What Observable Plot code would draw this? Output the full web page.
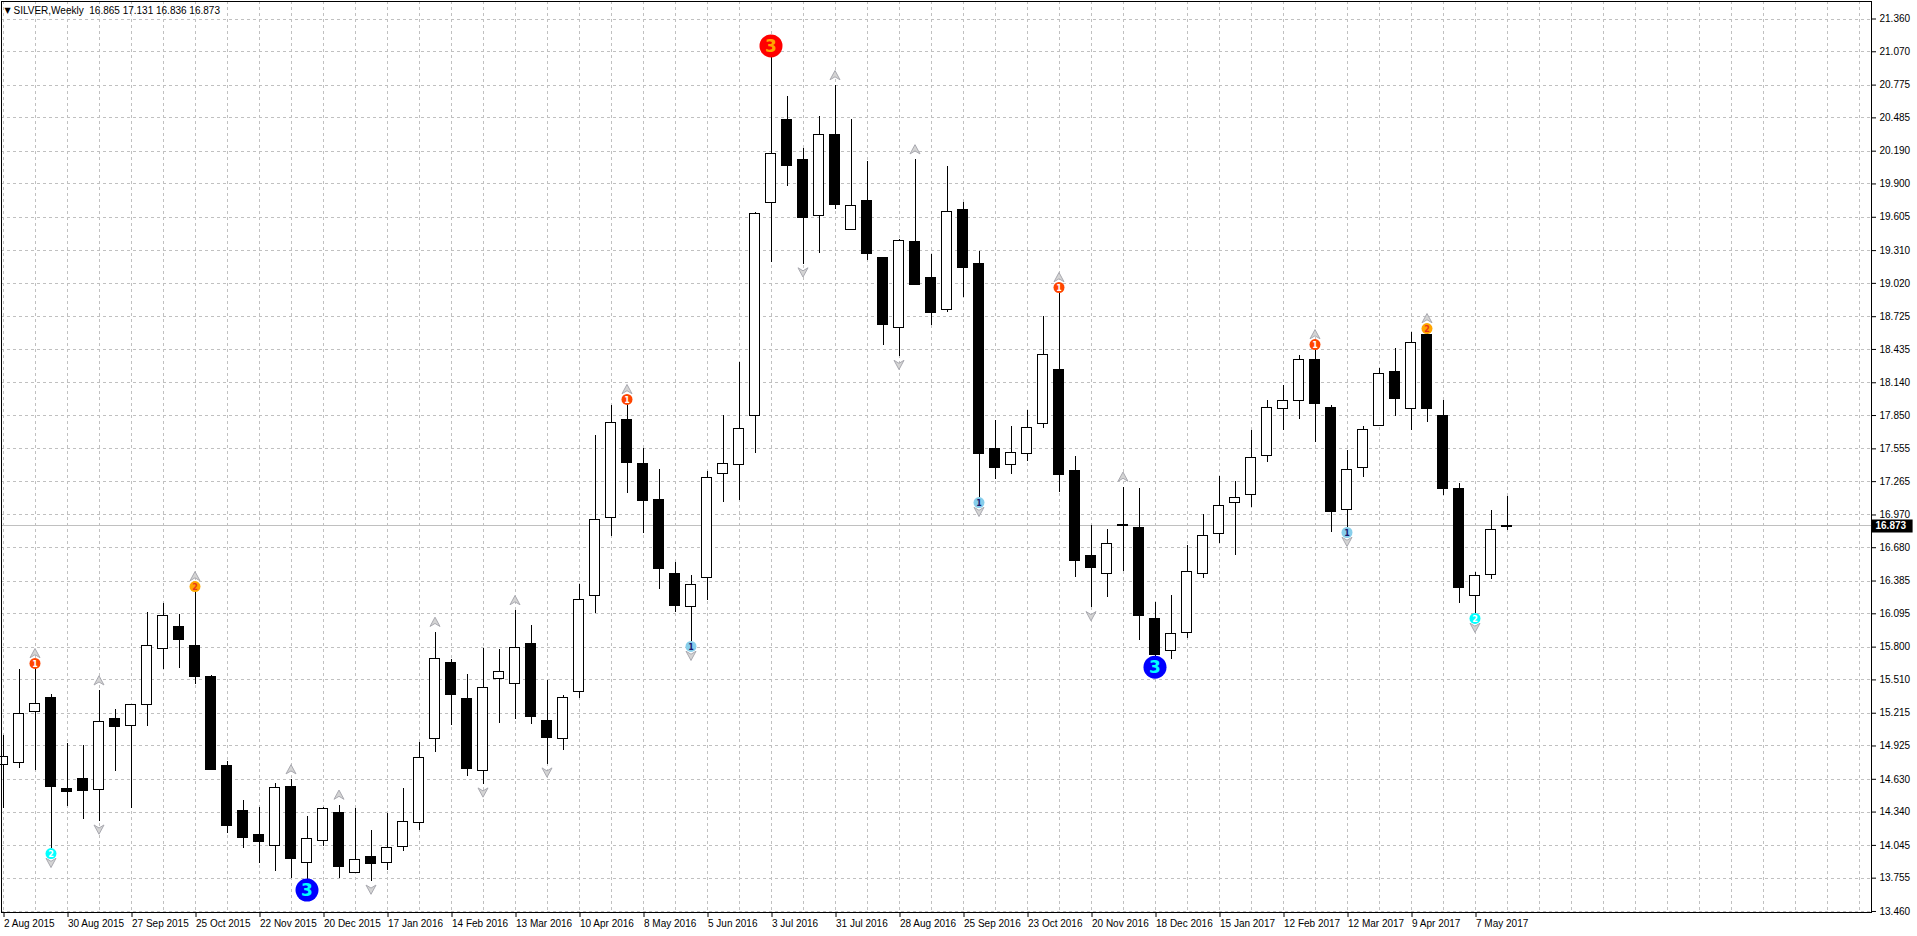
<!DOCTYPE html>
<html><head><meta charset="utf-8">
<script src="https://cdn.jsdelivr.net/npm/d3@7"></script>
<script src="https://cdn.jsdelivr.net/npm/@observablehq/plot@0.6"></script>
<style>
html,body{margin:0;padding:0;background:#fff;overflow:hidden}
#chart{width:1917px;height:936px}
</style></head><body><div id="chart"></div>
<script>
const symbolName = "SILVER,Weekly";

// weekly bars, index 0 = week of 2 Aug 2015
const opens = [14.754,14.772,15.222,15.352,14.544,14.629,14.538,15.165,15.100,15.287,
15.784,15.979,15.811,15.535,14.748,14.348,14.141,14.041,14.561,13.892,
14.088,14.328,13.801,13.946,13.892,14.031,14.241,14.986,15.660,15.340,
14.705,15.518,15.473,15.828,15.148,14.986,15.405,16.257,16.945,17.809,
17.424,17.099,16.449,16.153,16.413,17.336,17.409,17.849,19.731,20.470,
20.115,19.613,20.334,19.492,19.752,19.247,18.623,19.388,19.069,18.782,
19.672,19.193,17.550,17.416,17.513,17.779,18.249,17.362,16.609,16.449,
16.880,16.857,16.050,15.763,15.926,16.449,16.804,17.075,17.147,17.490,
17.906,17.977,18.341,17.915,17.011,17.383,17.756,18.237,17.906,18.562,
17.844,17.197,16.257,16.435,16.865];
const highs = [15.014,15.606,15.611,15.378,14.949,14.926,15.414,15.245,15.290,16.107,
16.190,16.092,16.292,15.547,14.784,14.446,14.378,14.594,14.627,14.304,
14.378,14.402,14.369,14.180,14.324,14.551,14.956,15.932,15.689,15.562,
15.784,15.775,16.124,15.988,15.509,15.370,16.354,17.676,17.942,17.948,
17.557,17.374,16.549,16.434,17.359,17.847,18.319,19.649,21.024,20.671,
20.210,20.494,20.771,20.470,20.095,19.247,19.406,20.115,19.273,20.056,
19.737,19.300,17.810,17.756,17.891,18.724,18.939,17.489,16.877,16.842,
17.217,17.203,16.192,16.257,16.700,16.975,17.312,17.268,17.717,17.980,
18.119,18.385,18.434,17.942,17.543,17.756,18.270,18.447,18.583,18.576,
17.980,17.250,16.461,17.011,17.131];
const lows = [14.369,14.724,14.704,14.017,14.393,14.271,14.259,14.695,14.375,15.097,
15.601,15.612,15.473,14.704,14.153,14.014,13.886,13.816,13.756,13.747,
14.037,13.756,13.801,13.727,13.820,13.995,14.173,14.867,15.110,14.655,
14.587,15.125,15.163,15.119,14.764,14.882,15.346,16.094,16.780,17.158,
16.810,16.310,16.109,15.850,16.212,17.084,17.095,17.515,19.205,19.879,
19.191,19.288,19.678,19.492,19.223,18.469,18.372,19.001,18.647,18.765,
18.898,17.124,17.287,17.325,17.445,17.732,17.173,16.419,16.148,16.236,
16.473,15.858,15.720,15.689,15.879,16.405,16.721,16.614,17.035,17.434,
17.714,17.815,17.611,16.813,16.859,17.301,17.756,17.841,17.720,17.788,
17.141,16.184,16.098,16.399,16.836];
const closes = [14.831,15.207,15.296,14.564,14.520,14.529,15.136,15.097,15.287,15.811,
16.077,15.861,15.532,14.712,14.215,14.111,14.076,14.550,13.925,14.106,
14.363,13.857,13.919,13.884,14.018,14.256,14.817,15.695,15.376,14.720,
15.438,15.580,15.793,15.178,14.994,15.349,16.218,16.928,17.788,17.433,
17.093,16.490,16.162,16.351,17.300,17.424,17.728,19.637,20.166,20.056,
19.595,20.334,19.711,19.705,19.276,18.650,19.397,19.007,18.762,19.651,
19.152,17.510,17.388,17.521,17.743,18.390,17.324,16.561,16.499,16.715,
16.874,16.074,15.730,15.917,16.467,16.786,17.052,17.120,17.475,17.915,
17.977,18.341,17.948,16.999,17.366,17.720,18.217,17.992,18.492,17.912,
17.203,16.320,16.426,16.834,16.873];

// right-axis price labels
const priceTicks = [21.360,21.070,20.775,20.485,20.190,19.900,19.605,19.310,19.020,18.725,
18.435,18.140,17.850,17.555,17.265,16.970,16.680,16.385,16.095,15.800,
15.510,15.215,14.925,14.630,14.340,14.045,13.755,13.460];

// bottom-axis date labels (every 4th weekly bar)
const dateTickBars = [0,4,8,12,16,20,24,28,32,36,40,44,48,52,56,60,64,68,72,76,80,84,88,92];
const dateLabels = ["2 Aug 2015","30 Aug 2015","27 Sep 2015","25 Oct 2015","22 Nov 2015","20 Dec 2015",
"17 Jan 2016","14 Feb 2016","13 Mar 2016","10 Apr 2016","8 May 2016","5 Jun 2016","3 Jul 2016",
"31 Jul 2016","28 Aug 2016","25 Sep 2016","23 Oct 2016","20 Nov 2016","18 Dec 2016","15 Jan 2017",
"12 Feb 2017","12 Mar 2017","9 Apr 2017","7 May 2017"];

// wave markers (bar indexes)
const wave1Top = [2,39,66,82];
const wave2Top = [12,89];
const wave3Top = [48];
const wave1Bottom = [43,61,84];
const wave2Bottom = [3,92];
const wave3Bottom = [19,72];

// fractal arrows (bar indexes)
const fractalUp = [2,6,12,18,21,27,32,39,52,57,66,70,82,89];
const fractalDown = [3,6,23,30,34,43,50,56,61,68,84,92];

const candles = opens.map((o, i) => ({i, open: o, high: highs[i], low: lows[i], close: closes[i]}));
const last = candles[candles.length - 1];
const markedTop = new Set([...wave1Top, ...wave2Top, ...wave3Top]);
const markedBottom = new Set([...wave1Bottom, ...wave2Bottom, ...wave3Bottom]);

const chevronUp = {draw(ctx, size) {
  const s = Math.sqrt(size / Math.PI);
  ctx.moveTo(0, -s); ctx.lineTo(s, s * 0.85); ctx.lineTo(0, s * 0.25); ctx.lineTo(-s, s * 0.85); ctx.closePath();
}};
const chevronDown = {draw(ctx, size) {
  const s = Math.sqrt(size / Math.PI);
  ctx.moveTo(0, s); ctx.lineTo(s, -s * 0.85); ctx.lineTo(0, -s * 0.25); ctx.lineTo(-s, -s * 0.85); ctx.closePath();
}};

const grid = {stroke: "#c0c0c0", strokeDasharray: "3,3", strokeWidth: 1, shapeRendering: "crispEdges"};
const arrowStyle = {r: 5, fill: "#d4d4d4", stroke: "#a9a9b0", strokeWidth: 1};

function markerMarks(bars, getY, dy, r, fill, label, textFill, fontSize) {
  return [
    Plot.dot(bars, {x: d => d, y: getY, dy, r, fill}),
    Plot.text(bars, {x: d => d, y: getY, dy: dy + 0.5, text: () => label, fill: textFill,
      fontWeight: "bold", fontSize, fontFamily: "'DejaVu Sans', sans-serif"})
  ];
}
const hi = d => highs[d];
const lo = d => lows[d];

const xMax = 116.78125;
const header = `${symbolName}  ${last.open.toFixed(3)} ${last.high.toFixed(3)} ${last.low.toFixed(3)} ${last.close.toFixed(3)}`;

const chart = Plot.plot({
  width: 1917,
  height: 936,
  marginLeft: 1,
  marginTop: 1,
  marginRight: 46,
  marginBottom: 24,
  x: {type: "linear", domain: [-0.09375, xMax]},
  y: {type: "linear", domain: [13.451, 21.515]},
  color: {type: "identity"},
  style: {fontFamily: "'Liberation Sans', Arial, sans-serif", fontSize: "10px", color: "#000",
    background: "#fff", overflow: "visible", whiteSpace: "pre"},
  marks: [
    Plot.ruleY(priceTicks, grid),
    Plot.ruleX(d3.range(0, 117, 2), grid),
    Plot.ruleY([last.close], {stroke: "#c0c0c0", shapeRendering: "crispEdges"}),
    Plot.ruleX(candles, {x: "i", y1: "low", y2: "high", stroke: "#000", shapeRendering: "crispEdges"}),
    Plot.rect(candles, {x1: d => d.i - 0.3125, x2: d => d.i + 0.3125, y1: "open", y2: "close",
      fill: d => d.close < d.open ? "#000" : "#fff", stroke: "#000", inset: 0, shapeRendering: "crispEdges"}),
    // fractal arrows
    Plot.dot(fractalUp.filter(d => !markedTop.has(d)), {x: d => d, y: hi, dy: -10, symbol: chevronUp, ...arrowStyle}),
    Plot.dot(fractalUp.filter(d => markedTop.has(d)), {x: d => d, y: hi, dy: -15, symbol: chevronUp, ...arrowStyle}),
    Plot.dot(fractalDown.filter(d => !markedBottom.has(d)), {x: d => d, y: lo, dy: 8, symbol: chevronDown, ...arrowStyle}),
    Plot.dot(fractalDown.filter(d => markedBottom.has(d)), {x: d => d, y: lo, dy: 14, symbol: chevronDown, ...arrowStyle}),
    // wave markers
    ...markerMarks(wave1Top, hi, -5, 5.5, "#ff4500", "1", "#ffffff", 8),
    ...markerMarks(wave2Top, hi, -5, 5.5, "#ffa500", "2", "#e8341c", 8),
    ...markerMarks(wave3Top, hi, -11, 11.5, "#ff0000", "3", "#ffa500", 17),
    ...markerMarks(wave1Bottom, lo, 5, 5.5, "#87ceeb", "1", "#1a1a70", 8),
    ...markerMarks(wave2Bottom, lo, 5, 5.5, "#00ffff", "2", "#ffffff", 8),
    ...markerMarks(wave3Bottom, lo, 11, 11.5, "#0000ff", "3", "#00ffff", 17),
    Plot.frame({stroke: "#000", shapeRendering: "crispEdges"}),
    // axes
    Plot.axisY({anchor: "right", ticks: priceTicks, tickFormat: d => d.toFixed(3), tickSize: 4, tickPadding: 4,
      label: null, fill: "#000"}),
    Plot.axisX({anchor: "bottom", ticks: dateTickBars, tickFormat: d => dateLabels[dateTickBars.indexOf(d)],
      tickSize: 5, tickPadding: 2, textAnchor: "start", dx: 1, label: null, fill: "#000"}),
    // current price label box on the axis
    Plot.ruleY([last.close], {x1: xMax, x2: xMax + 2.6, stroke: "#000", strokeWidth: 13}),
    Plot.text([last.close], {y: d => d, frameAnchor: "right", dx: 4, textAnchor: "start", fill: "#fff",
      text: d => d.toFixed(3), fontWeight: "bold"}),
    // header
    Plot.text(["\u25BC"], {frameAnchor: "top-left", dx: 3, dy: 6, lineAnchor: "top", textAnchor: "start",
      fontSize: 8, fontFamily: "'DejaVu Sans', sans-serif", fill: "#000"}),
    Plot.text([header], {frameAnchor: "top-left", dx: 12, dy: 5, lineAnchor: "top", textAnchor: "start", fill: "#000"})
  ]
});
document.getElementById("chart").appendChild(chart);
</script>
</body></html>
